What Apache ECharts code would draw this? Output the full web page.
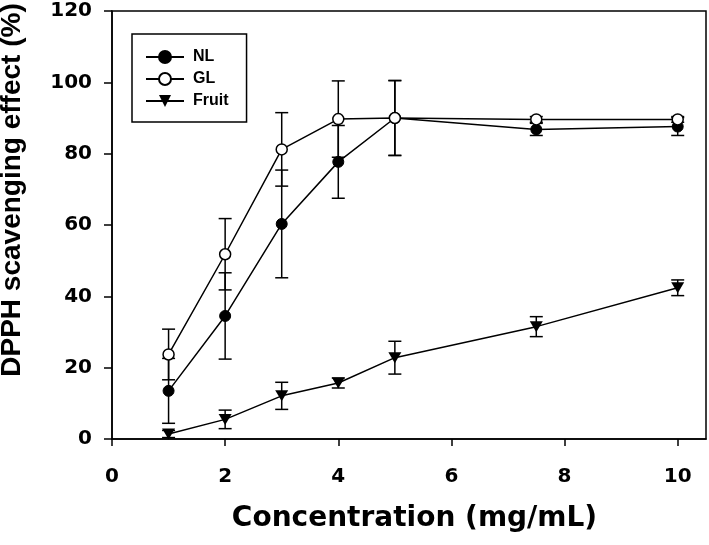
<!DOCTYPE html>
<html>
<head>
<meta charset="utf-8">
<script src="https://cdn.jsdelivr.net/npm/echarts@6/dist/echarts.min.js"></script>
<style>
html,body{margin:0;padding:0;background:#fff;}
#chart{width:709px;height:545px;}
</style>
</head>
<body>
<div id="chart"></div>
<script>
// Data
const concentrations = [1, 2, 3, 4, 5, 7.5, 10];
const nlMean = [13.5, 34.5, 60.3, 77.7, 90.0, 86.8, 87.6];
const nlErr = [9.1, 12.1, 15.1, 10.2, 10.5, 1.7, 2.5];
const glMean = [23.7, 51.8, 81.2, 89.7, 90.0, 89.6, 89.6];
const glErr = [7.1, 10.0, 10.3, 10.7, 10.5, 0.8, 0.8];
const fruitMean = [1.4, 5.5, 12.1, 15.7, 22.8, 31.5, 42.4];
const fruitErr = [1.0, 2.6, 3.8, 1.4, 4.6, 2.8, 2.2];
const xTicks = [0, 2, 4, 6, 8, 10];
const seriesNames = ['NL', 'GL', 'Fruit'];

const pairs = (m) => concentrations.map((x, i) => [x, m[i]]);
const errData = (m, e) => concentrations.map((x, i) => [x, m[i] - e[i], m[i] + e[i]]);

const tickFont = {fontFamily: 'DejaVu Sans', fontWeight: 'bold', fontSize: 20, color: '#000'};

function errRender(params, api) {
  const x = api.value(0);
  const lo = api.coord([x, api.value(1)]);
  const hi = api.coord([x, api.value(2)]);
  const cap = 6.5;
  const st = {stroke: '#000', lineWidth: 1.5};
  return {
    type: 'group',
    children: [
      {type: 'line', shape: {x1: lo[0], y1: lo[1], x2: hi[0], y2: hi[1]}, style: st},
      {type: 'line', shape: {x1: lo[0] - cap, y1: lo[1], x2: lo[0] + cap, y2: lo[1]}, style: st},
      {type: 'line', shape: {x1: hi[0] - cap, y1: hi[1], x2: hi[0] + cap, y2: hi[1]}, style: st}
    ]
  };
}

const triDown = 'path://M0,0 L12,0 L6,10 Z';

const chart = echarts.init(document.getElementById('chart'), null, {renderer: 'canvas'});
chart.setOption({
  animation: false,
  backgroundColor: '#fff',
  grid: {left: 112, right: 3, top: 11, bottom: 106, containLabel: false, outerBoundsMode: 'none', show: true, borderColor: '#000', borderWidth: 1.5, backgroundColor: 'transparent'},
  legend: {
    data: seriesNames,
    orient: 'vertical',
    left: 132,
    top: 34,
    padding: [15, 18, 13, 13],
    borderColor: '#000',
    borderWidth: 1.5,
    itemWidth: 38,
    itemHeight: 15,
    itemGap: 6,
    textStyle: {fontFamily: 'Liberation Sans', fontWeight: 'bold', fontSize: 16, color: '#000', padding: [0, 0, 0, 4]}
  },
  xAxis: {
    type: 'value',
    min: 0,
    max: 10.5,
    interval: 2,
    name: 'Concentration (mg/mL)',
    nameLocation: 'middle',
    nameGap: 66,
    nameTextStyle: {fontFamily: 'DejaVu Sans', fontWeight: 'bold', fontSize: 28, color: '#000', padding: [0, 0, 0, 11]},
    axisLine: {lineStyle: {color: '#000', width: 1.5}},
    axisTick: {show: true, length: 7, lineStyle: {color: '#000', width: 1.5}, customValues: xTicks},
    axisLabel: Object.assign({margin: 28, customValues: xTicks}, tickFont),
    splitLine: {show: false}
  },
  yAxis: {
    type: 'value',
    min: 0,
    max: 120,
    interval: 20,
    name: 'DPPH scavenging effect (%)',
    nameLocation: 'middle',
    nameGap: 86,
    nameTextStyle: {fontFamily: 'Liberation Sans', fontWeight: 'bold', fontSize: 28, color: '#000', padding: [0, 0, 0, 70]},
    axisLine: {show: true, lineStyle: {color: '#000', width: 1.5}},
    axisTick: {show: true, length: 8, lineStyle: {color: '#000', width: 1.5}},
    axisLabel: Object.assign({margin: 20}, tickFont),
    splitLine: {show: false}
  },
  series: [
    {type: 'custom', name: 'NL err', renderItem: errRender, data: errData(nlMean, nlErr), z: 1, silent: true},
    {type: 'custom', name: 'GL err', renderItem: errRender, data: errData(glMean, glErr), z: 1, silent: true},
    {type: 'custom', name: 'Fruit err', renderItem: errRender, data: errData(fruitMean, fruitErr), z: 1, silent: true},
    {
      type: 'line', name: 'NL', data: pairs(nlMean), z: 3,
      symbol: 'circle', symbolSize: 11, showAllSymbol: true,
      lineStyle: {color: '#000', width: 1.5},
      itemStyle: {color: '#000', borderColor: '#000', borderWidth: 1}
    },
    {
      type: 'line', name: 'GL', data: pairs(glMean), z: 4,
      symbol: 'circle', symbolSize: 11, showAllSymbol: true,
      lineStyle: {color: '#000', width: 1.5},
      itemStyle: {color: '#fff', borderColor: '#000', borderWidth: 1.5}
    },
    {
      type: 'line', name: 'Fruit', data: pairs(fruitMean), z: 3,
      symbol: triDown, symbolSize: [13, 11], showAllSymbol: true,
      lineStyle: {color: '#000', width: 1.5},
      itemStyle: {color: '#000', borderColor: '#000', borderWidth: 0}
    }
  ]
});
</script>
</body>
</html>
